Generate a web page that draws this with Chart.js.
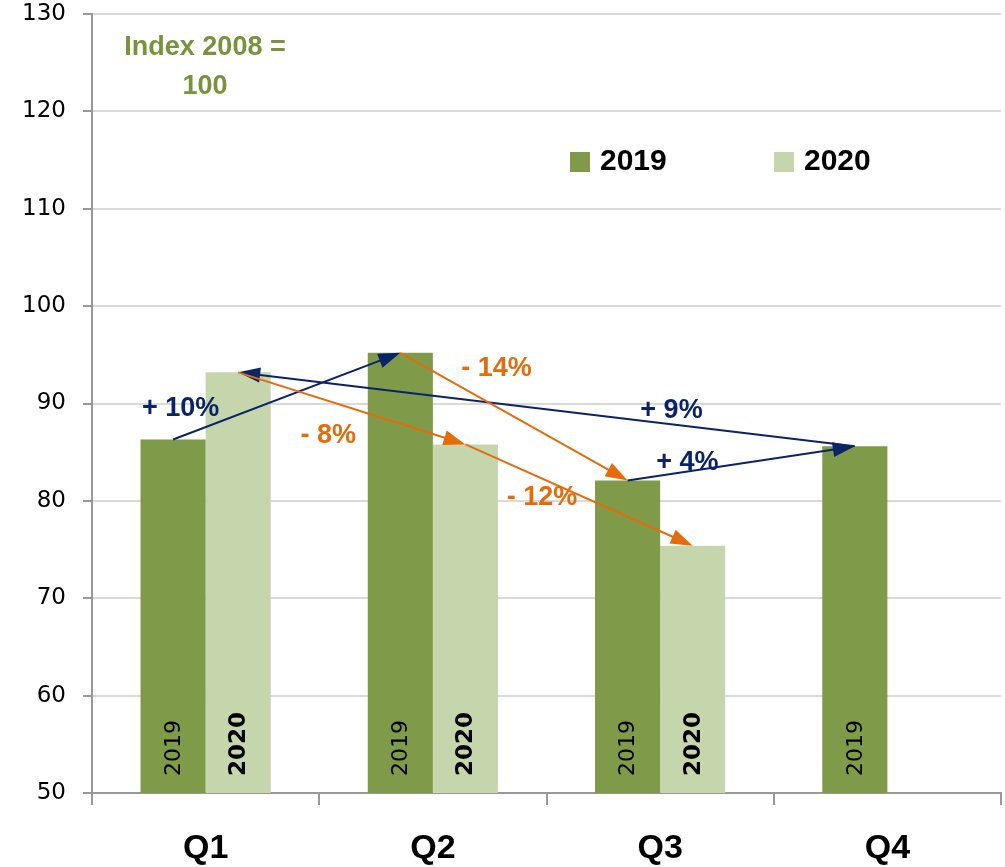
<!DOCTYPE html>
<html>
<head>
<meta charset="utf-8">
<script src="https://cdn.jsdelivr.net/npm/chart.js@4"></script>
<style>
  body { margin: 0; background: #fff; }
</style>
</head>
<body>
<canvas id="indexChart" width="1005" height="867"></canvas>
<script>
// quarters and index values (2008 = 100)
const quarters = ["Q1", "Q2", "Q3", "Q4"];
const values2019 = [86.3, 95.2, 82.1, 85.6];
const values2020 = [93.2, 85.8, 75.4, null];
const seriesNames = ["2019", "2020"];

// y axis range
const yMin = 50;
const yMax = 130;
const yStep = 10;

// change arrows: [dataset, quarter] -> [dataset, quarter]
const changeFrom = [[0, 0], [0, 3], [0, 2], [1, 0], [0, 1], [1, 1]];
const changeTo   = [[0, 1], [1, 0], [0, 3], [1, 1], [0, 2], [1, 2]];
const changeText = ["+ 10%", "+ 9%", "+ 4%", "- 8%", "- 14%", "- 12%"];
const changeUp   = [true, true, true, false, false, false];
// where each change label sits (quarter index, index value)
const labelAtQuarter = [-0.11, 2.05, 2.12, 0.54, 1.28, 1.48];
const labelAtValue   = [89.5, 89.3, 83.9, 86.7, 93.6, 80.3];

const darkGreen = "#7F9A48";
const lightGreen = "#C6D6AC";
const navy = "#0B2468";
const orange = "#E46C0A";

function drawArrow(ctx, x1, y1, x2, y2, color) {
  const ang = Math.atan2(y2 - y1, x2 - x1);
  const headLen = 22, headW = 7.5;
  const c = Math.cos(ang), s = Math.sin(ang);
  ctx.save();
  ctx.strokeStyle = color;
  ctx.fillStyle = color;
  ctx.lineWidth = 2;
  ctx.beginPath();
  ctx.moveTo(x1, y1);
  ctx.lineTo(x2 - c * headLen * 0.8, y2 - s * headLen * 0.8);
  ctx.stroke();
  ctx.beginPath();
  ctx.moveTo(x2, y2);
  ctx.lineTo(x2 - c * headLen - s * headW, y2 - s * headLen + c * headW);
  ctx.lineTo(x2 - c * headLen + s * headW, y2 - s * headLen - c * headW);
  ctx.closePath();
  ctx.fill();
  ctx.restore();
}

const extrasPlugin = {
  id: "extras",
  afterDraw(chart) {
    const ctx = chart.ctx;
    const area = chart.chartArea;
    const xs = chart.scales.x, ys = chart.scales.y;
    const basePx = ys.getPixelForValue(yMin);

    // year labels inside bars
    chart.data.datasets.forEach((ds, di) => {
      const meta = chart.getDatasetMeta(di);
      meta.data.forEach((bar, i) => {
        if (ds.data[i] == null) return;
        ctx.save();
        ctx.translate(bar.x, basePx - 17);
        ctx.rotate(-Math.PI / 2);
        ctx.textAlign = "left";
        ctx.textBaseline = "middle";
        ctx.fillStyle = "#000";
        ctx.font = di === 0 ? "22px 'DejaVu Sans'" : "bold 23px 'DejaVu Sans'";
        ctx.fillText(String(ds.label), 0, 1);
        ctx.restore();
      });
    });

    // change arrows
    changeFrom.forEach((f, k) => {
      const a = chart.getDatasetMeta(f[0]).data[f[1]];
      const t = changeTo[k];
      const b = chart.getDatasetMeta(t[0]).data[t[1]];
      drawArrow(ctx, a.x, a.y, b.x, b.y, changeUp[k] ? navy : orange);
    });

    ctx.save();
    ctx.font = "bold 27px 'Liberation Sans', Arial";
    ctx.textAlign = "center";
    ctx.textBaseline = "middle";
    changeText.forEach((txt, k) => {
      ctx.fillStyle = changeUp[k] ? navy : orange;
      ctx.fillText(txt, xs.getPixelForValue(labelAtQuarter[k]), ys.getPixelForValue(labelAtValue[k]));
    });
    ctx.restore();

    // index note
    ctx.save();
    ctx.fillStyle = "#77933C";
    ctx.font = "bold 27px 'Liberation Sans', Arial";
    ctx.textAlign = "center";
    ctx.textBaseline = "middle";
    ctx.fillText("Index 2008 =", area.left + 113, area.top + 34);
    ctx.fillText("100", area.left + 113, area.top + 73);
    ctx.restore();

    // legend
    ctx.save();
    ctx.font = "bold 30px 'Liberation Sans', Arial";
    ctx.textAlign = "left";
    ctx.textBaseline = "middle";
    const legendX = [570, 774];
    chart.data.datasets.forEach((ds, di) => {
      ctx.fillStyle = ds.backgroundColor;
      ctx.fillRect(legendX[di], 152, 20, 20);
      ctx.fillStyle = "#000";
      ctx.fillText(ds.label, legendX[di] + 30, 162);
    });
    ctx.restore();
  }
};

new Chart(document.getElementById("indexChart"), {
  type: "bar",
  data: {
    labels: quarters,
    datasets: [
      { label: seriesNames[0], data: values2019, backgroundColor: darkGreen, categoryPercentage: 0.573, barPercentage: 1 },
      { label: seriesNames[1], data: values2020, backgroundColor: lightGreen, categoryPercentage: 0.573, barPercentage: 1 }
    ]
  },
  options: {
    responsive: false,
    animation: false,
    layout: { padding: { top: 14, right: 4, left: 0, bottom: 0 } },
    plugins: {
      legend: { display: false },
      tooltip: { enabled: false }
    },
    scales: {
      x: {
        afterFit: s => { s.height = 74; s.paddingLeft = 0; s.paddingRight = 0; },
        grid: { offset: true, drawOnChartArea: false, drawTicks: true, tickLength: 12, color: "#999", lineWidth: 2 },
        border: { color: "#999", width: 2 },
        ticks: { color: "#000", font: { family: "'Liberation Sans', Arial", size: 34, weight: "bold" }, padding: 23 }
      },
      y: {
        min: yMin,
        max: yMax,
        afterFit: s => { s.width = 92; s.paddingTop = 0; s.paddingBottom = 0; },
        ticks: { stepSize: yStep, color: "#000", font: { family: "'DejaVu Sans'", size: 23 }, padding: 17 },
        grid: { color: "#d9d9d9", lineWidth: 2, tickLength: 9, tickColor: "#999" },
        border: { color: "#999", width: 2 }
      }
    }
  },
  plugins: [extrasPlugin]
});
</script>
</body>
</html>
